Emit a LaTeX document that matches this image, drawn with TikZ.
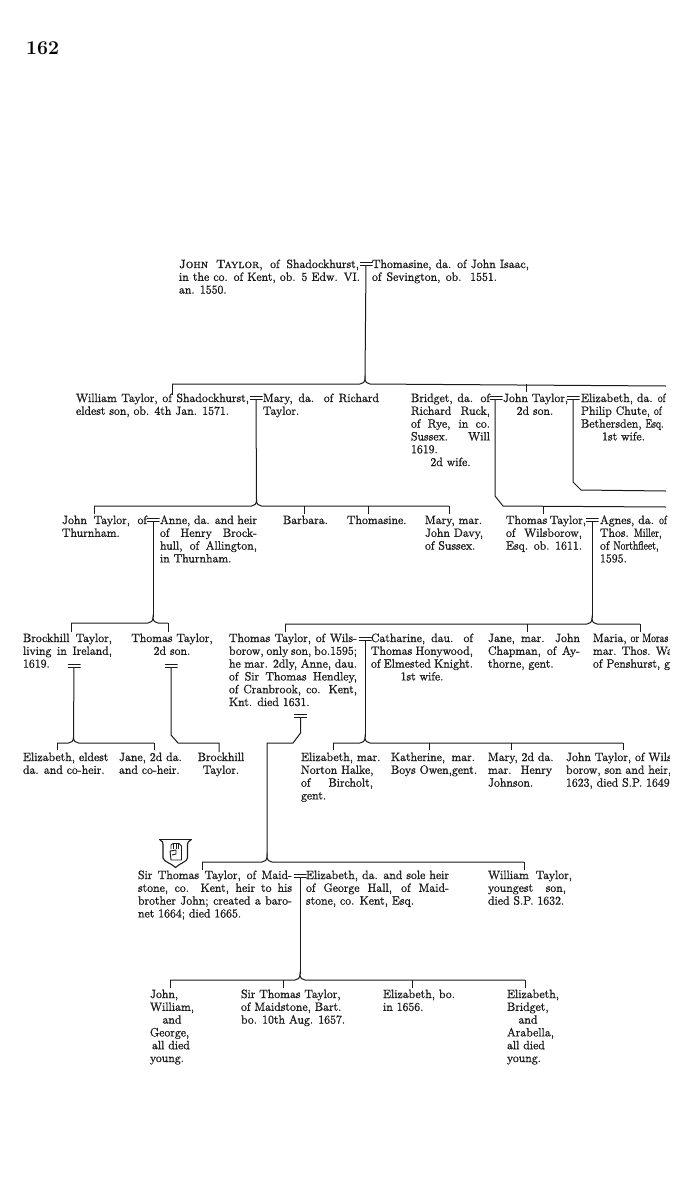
\documentclass[tikz,border=0pt]{standalone}
\usetikzlibrary{calc}
\definecolor{ink}{HTML}{1A1A1A}
\newcommand\Fs{\fontsize{12}{12.8}\selectfont\special{pdf:code 2 Tr 0.16 w}}
\newcommand\St{\rule{0pt}{9pt}\rule[-3.8pt]{0pt}{0pt}}
% justified line, left line, centred line of a given width
\newcommand\Jl[2]{\makebox[#1pt][s]{\St #2}}
\newcommand\Ll[2]{\makebox[#1pt][l]{\St #2}}
\newcommand\Cl[2]{\makebox[#1pt][c]{\St #2}}
\newcommand\Sq[1]{\scalebox{.82}[1]{#1}}
\newcommand\Busline[3]{\draw[ln] (#1) -- ($(#2)+(-5,6)$) .. controls ($(#2)+(-2,6)$) and ($(#2)+(0,4)$) .. (#2) .. controls ($(#2)+(0,4)$) and ($(#2)+(2,6)$) .. ($(#2)+(5,6)$) -- (#3);}
\tikzset{
  ln/.style={draw=ink,line width=1pt},
  tick/.style={draw=ink,line width=0.8pt},
  person/.style={anchor=north west,inner sep=0pt,outer sep=0pt,align=left,font=\Fs,text=ink},
  marr/.style={inner sep=0pt,minimum width=#1,minimum height=3pt,
    path picture={\draw[ink,line width=0.8pt]
      (path picture bounding box.north west)--(path picture bounding box.north east)
      (path picture bounding box.south west)--(path picture bounding box.south east);}},
  marr/.default=13pt
}
\begin{document}
\begin{tikzpicture}[x=1pt,y=-1pt]
\useasboundingbox (0,0) rectangle (698,1194);
\fill[white] (0,0) rectangle (698,1194);
\node[anchor=base west,inner sep=0pt,text=black,font=\fontsize{19.5}{20}\selectfont\bfseries] (page) at (26,54) {162};

% ---- generation 1
\node[person] (jt) at (179,259) {\Jl{180}{\textsc{John Taylor}, of Shadockhurst,}\\\Jl{181}{in the co. of Kent, ob. 5 Edw. VI.}\\\Ll{181}{an. 1550.}};
\node[person] (thomasine) at (372,259) {\Jl{157}{Thomasine, da. of John Isaac,}\\\Jl{125}{of Sevington, ob. 1551.}};
\node[marr] (m1) at (366,264) {};
\coordinate (tip1) at (365,378);
\coordinate (l1) at (172,395);\coordinate (l1b) at (172,384);
\coordinate (r1) at (666,386);
\coordinate (t1a) at (526,384);\coordinate (t1b) at (526,392);
\draw[ln] (m1) -- (tip1);
\draw[ln] (l1) -- (l1b);
\Busline{l1b}{tip1}{r1}
\draw[tick] (t1a) -- (t1b);

% ---- generation 2
\node[person] (william) at (76,393) {\Jl{173}{William Taylor, of Shadockhurst,}\\\Ll{173}{eldest son, ob. 4th Jan. 1571.}};
\node[marr] (m2) at (256,398) {};
\node[person] (mary) at (263,393) {\Jl{116}{Mary, da. of Richard}\\\Ll{116}{Taylor.}};
\node[person] (bridget) at (411,393) {\Jl{79}{Bridget, da. of}\\\Jl{79}{Richard Ruck,}\\\Jl{79}{of Rye, in co.}\\\Jl{79}{Sussex. Will}\\\Ll{79}{1619.}\\\Cl{79}{2d wife.}};
\node[marr] (m3) at (496,398) {};
\node[person] (john2) at (503,393) {\Ll{64}{John Taylor,}\\\Cl{64}{2d son.}};
\node[marr] (m4) at (573,398) {};
\node[person] (chute) at (581,393) {\Ll{85}{Elizabeth, da. \Sq{of}}\\\Ll{85}{Philip Chute, \Sq{of}}\\\Ll{85}{Bethersden, \Sq{Esq.}}\\\Cl{85}{1st wife.}};

\coordinate (tip2) at (256.5,500);
\coordinate (l2) at (94,514);\coordinate (l2b) at (94,506);
\coordinate (r2) at (449,514);\coordinate (r2b) at (449,506);
\draw[ln] (m2) -- (tip2);
\draw[ln] (l2) -- (l2b);
\Busline{l2b}{tip2}{r2b}
\draw[ln] (r2b) -- (r2);
\coordinate (t2a) at (304,506);\coordinate (t2b) at (304,514);
\coordinate (t2c) at (368,506);\coordinate (t2d) at (368,514);
\draw[tick] (t2a) -- (t2b);
\draw[tick] (t2c) -- (t2d);
\coordinate (k3) at (495,496);\coordinate (k3b) at (503,506);\coordinate (r3) at (666,507);
\draw[ln] (m3.south -| k3) -- (k3) -- (k3b) -- (r3);
\coordinate (t3a) at (543,506);\coordinate (t3b) at (543,514);
\draw[tick] (t3a) -- (t3b);
\coordinate (k4) at (573,482);\coordinate (k4b) at (581,490);\coordinate (r4) at (666,491);
\draw[ln] (m4) -- (k4) -- (k4b) -- (r4);

% ---- generation 3
\node[person] (john3) at (62,515) {\Jl{85}{John Taylor, of}\\\Ll{85}{Thurnham.}};
\node[marr] (m5) at (153,520) {};
\node[person] (anne) at (160,515) {\Jl{97}{Anne, da. and heir}\\\Jl{97}{of Henry Brock-}\\\Jl{97}{hull, of Allington,}\\\Ll{97}{in Thurnham.}};
\node[person] (barbara) at (283,515) {\St Barbara.};
\node[person] (thomasine2) at (347,515) {\St Thomasine.};
\node[person] (mary2) at (425,515) {\Ll{57}{Mary, mar.}\\\Ll{57}{John Davy,}\\\Ll{57}{of Sussex.}};
\node[person] (thomas1) at (506,515) {\Jl{79}{Thomas Taylor,}\\\Jl{76}{of Wilsborow,}\\\Jl{76}{Esq. ob. 1611.}};
\node[marr] (m6) at (592,520) {};
\node[person] (agnes) at (600,515) {\Ll{66}{Agnes, da. \Sq{of}}\\\Ll{66}{Thos. \Sq{Miller,}}\\\Ll{66}{of \Sq{Northfleet,}}\\\Ll{66}{1595.}};

\coordinate (tip5) at (153,617);
\coordinate (l5b) at (71,623);\coordinate (l5) at (71,632);
\coordinate (r5b) at (168,623);\coordinate (r5) at (168,632);
\draw[ln] (m5) -- (tip5);
\draw[ln] (l5) -- (l5b);
\Busline{l5b}{tip5}{r5b}
\draw[ln] (r5b) -- (r5);
\coordinate (tip6) at (592,618);
\coordinate (l6b) at (285,624);\coordinate (l6) at (285,632);
\coordinate (r6b) at (640,624);\coordinate (r6) at (640,632);
\coordinate (t6a) at (527,624);\coordinate (t6b) at (527,632);
\draw[ln] (m6) -- (tip6);
\draw[ln] (l6) -- (l6b);
\Busline{l6b}{tip6}{r6b}
\draw[ln] (r6b) -- (r6);
\draw[tick] (t6a) -- (t6b);

% ---- generation 4
\node[person] (brock) at (23,633) {\Jl{89}{Brockhill Taylor,}\\\Jl{89}{living in Ireland,}\\\Ll{89}{1619.}};
\node[marr] (m7) at (74,665.5) {};
\node[person] (thomas2) at (132,633) {\Cl{80}{Thomas Taylor,}\\\Cl{80}{2d son.}};
\node[marr] (m8) at (171,666) {};
\node[person] (thomas3) at (229,633) {\Jl{128}{Thomas Taylor, of Wils-}\\\Jl{128}{borow, only son, bo.1595;}\\\Jl{128}{he mar. 2dly, Anne, dau.}\\\Jl{128}{of Sir Thomas Hendley,}\\\Jl{128}{of Cranbrook, co. Kent,}\\\Ll{128}{Knt. died 1631.}};
\node[marr] (m9) at (300.5,716) {};
\node[marr] (m10) at (365,638.5) {};
\node[person] (catharine) at (371,633) {\Jl{102}{Catharine, dau. of}\\\Jl{102}{Thomas Honywood,}\\\Jl{102}{of Elmested Knight.}\\\Cl{102}{1st wife.}};
\node[person] (jane) at (488,633) {\Jl{92}{Jane, mar. John}\\\Jl{92}{Chapman, of Ay-}\\\Ll{92}{thorne, gent.}};
\node[person] (maria) at (593,633) {\Ll{77}{Maria, \Sq{or Moras}}\\\Ll{77}{mar. Thos. Wah}\\\Ll{77}{of Penshurst, ge}};

\coordinate (tip7) at (73.5,737);
\coordinate (l7b) at (57,743);\coordinate (l7) at (57,750);
\coordinate (r7b) at (154,743);\coordinate (r7) at (154,750);
\draw[ln] (m7) -- (tip7);
\draw[ln] (l7) -- (l7b);
\Busline{l7b}{tip7}{r7b}
\draw[ln] (r7b) -- (r7);
\coordinate (k8) at (171,735);\coordinate (k8b) at (178,743);
\coordinate (r8b) at (219,743);\coordinate (r8) at (219,752);
\draw[ln] (m8) -- (k8) -- (k8b) -- (r8b) -- (r8);
\coordinate (k9) at (300.5,733);\coordinate (k9b) at (293,743);
\coordinate (k9c) at (267,743);\coordinate (tip9) at (267,856);
\draw[ln] (m9) -- (k9) -- (k9b) -- (k9c) -- (tip9);
\coordinate (tip10) at (365,737);
\coordinate (l10b) at (333,743);\coordinate (l10) at (333,750);
\coordinate (r10b) at (623,743);\coordinate (r10) at (623,750);
\coordinate (t10a) at (429,743);\coordinate (t10b) at (429,750);
\coordinate (t10c) at (511,743);\coordinate (t10d) at (511,750);
\draw[ln] (m10) -- (tip10);
\draw[ln] (l10) -- (l10b);
\Busline{l10b}{tip10}{r10b}
\draw[ln] (r10b) -- (r10);
\draw[tick] (t10a) -- (t10b);
\draw[tick] (t10c) -- (t10d);

% ---- generation 5
\node[person] (eliz1) at (23,752) {\Ll{84}{Elizabeth, eldest}\\\Ll{84}{da. and co-heir.}};
\node[person] (jane2) at (119,752) {\Ll{64}{Jane, 2d da.}\\\Ll{64}{and co-heir.}};
\node[person] (brock2) at (197,752) {\Cl{48}{Brockhill}\\\Cl{48}{Taylor.}};
\node[person] (eliz2) at (301,752) {\Ll{78}{Elizabeth, mar.}\\\Ll{78}{Norton Halke,}\\\Jl{72}{of Bircholt,}\\\Ll{78}{gent.}};
\node[person] (kath) at (391,752) {\Jl{84}{Katherine, mar.}\\\Ll{84}{Boys Owen,gent.}};
\node[person] (mary3) at (488,752) {\Ll{64}{Mary, 2d da.}\\\Jl{64}{mar. Henry}\\\Ll{64}{Johnson.}};
\node[person] (john5) at (566,752) {\Ll{104}{John Taylor, of Wils}\\\Ll{104}{borow, son and heir, b}\\\Ll{104}{1623, died S.P. 1649}};

% ---- generation 5, Sir Thomas
\coordinate (l11b) at (202,862);\coordinate (l11) at (202,870);
\coordinate (r11b) at (524,862);\coordinate (r11) at (524,870);
\draw[ln] (l11) -- (l11b);
\Busline{l11b}{tip9}{r11b}
\draw[ln] (r11b) -- (r11);
\node[person] (sir1) at (138,870) {\Jl{154}{Sir Thomas Taylor, of Maid-}\\\Jl{154}{stone, co. Kent, heir to his}\\\Jl{154}{brother John; created a baro-}\\\Ll{154}{net 1664; died 1665.}};
\node[marr] (m11) at (300,875.5) {};
\node[person] (eliz3) at (306,870) {\Jl{143}{Elizabeth, da. and sole heir}\\\Jl{143}{of George Hall, of Maid-}\\\Ll{143}{stone, co. Kent, Esq.}};
\node[person] (will2) at (488,870) {\Jl{84}{William Taylor,}\\\Jl{78}{youngest son,}\\\Ll{84}{died S.P. 1632.}};
\coordinate (tip11) at (300,974);
\coordinate (l12b) at (170,980);\coordinate (l12) at (170,988);
\coordinate (r12b) at (525,980);\coordinate (r12) at (525,988);
\coordinate (t12a) at (283,980);\coordinate (t12b) at (283,988);
\coordinate (t12c) at (412,980);\coordinate (t12d) at (412,988);
\draw[ln] (m11) -- (tip11);
\draw[ln] (l12) -- (l12b);
\Busline{l12b}{tip11}{r12b}
\draw[ln] (r12b) -- (r12);
\draw[tick] (t12a) -- (t12b);
\draw[tick] (t12c) -- (t12d);

% ---- generation 6
\node[person] (kids1) at (150,989) {\Ll{46}{John,}\\\Ll{46}{William,}\\\Cl{44}{and}\\\Ll{46}{George,}\\\Ll{46}{\,all died}\\\Ll{46}{young.}};
\node[person] (sir2) at (241,989) {\Ll{102}{Sir Thomas Taylor,}\\\Ll{102}{of Maidstone, Bart.}\\\Ll{102}{bo. 10th Aug. 1657.}};
\node[person] (eliz4) at (383,989) {\Ll{72}{Elizabeth, bo.}\\\Ll{72}{in 1656.}};
\node[person] (kids2) at (507,989) {\Ll{52}{Elizabeth,}\\\Ll{52}{Bridget,}\\\Cl{42}{and}\\\Ll{52}{Arabella,}\\\Ll{52}{all died}\\\Ll{52}{young.}};

% ---- the page edge cuts the text off on the right
\fill[white] (670,0) rectangle (698,1194);

% ---- arms
\draw[ink,line width=1pt] (158.5,839.5) -- (192,839.5);
\draw[ink,line width=1.1pt,fill=white] (160,840) .. controls (162,841) and (163,842) .. (163,844) -- (163,858) .. controls (164,862) and (171,863) .. (175.5,867.5) .. controls (180,863) and (187,862) .. (187.5,858) -- (187.5,844) .. controls (187.5,842) and (189,841) .. (191,840);
\draw[ink,line width=0.9pt] (171,849) -- (171,845) -- (173,843.5) -- (179,843.5) -- (181.5,846) -- (181.5,860) -- (171,860) -- (170,851) -- (176,850) -- (176,854) -- (172,855);
\draw[ink,line width=0.7pt] (173.5,844) -- (173.5,849) (176,844) -- (176,849) (178.5,844) -- (178.5,849);
\end{tikzpicture}
\end{document}
